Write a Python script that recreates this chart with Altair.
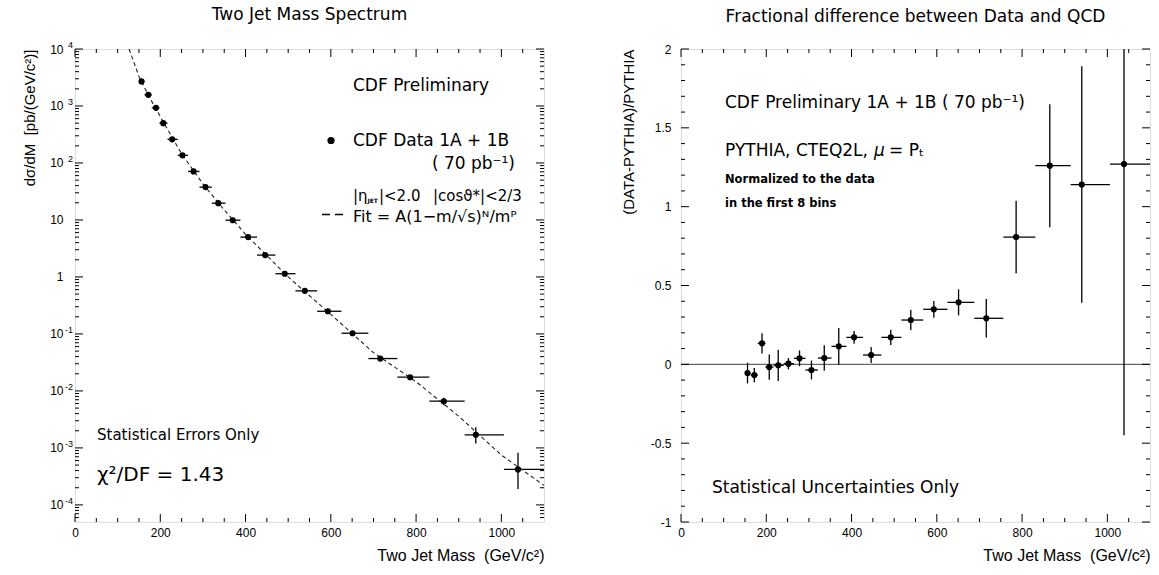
import altair as alt
import pandas as pd

# ---------------- data ----------------
mass = [156, 172, 190, 207, 228, 252, 278, 306, 336, 370, 406, 446, 492, 539,
        593, 651, 716, 786, 865, 940, 1039]
bin_lo = [150, 163, 180, 198, 217, 241, 265, 292, 321, 353, 388, 427, 470, 517,
          568, 625, 688, 756, 831, 914, 1006]
bin_hi = [163, 180, 198, 217, 241, 265, 292, 321, 353, 388, 427, 470, 517, 568,
          625, 688, 756, 831, 914, 1006, 1106]
xsec = [2700, 1570, 927, 500, 260, 136, 71, 37.7, 19.7, 9.9, 5.0, 2.42, 1.14, 0.57,
        0.25, 0.103, 0.037, 0.0174, 0.0066, 0.0017, 0.00042]
xsec_err_up = [40, 25, 15, 8, 4.5, 2.5, 1.4, 0.8, 0.45, 0.25, 0.14, 0.08, 0.045, 0.026,
               0.014, 0.0068, 0.0033, 0.0016, 0.001, 0.0006, 0.0004]
xsec_err_dn = [40, 25, 15, 8, 4.5, 2.5, 1.4, 0.8, 0.45, 0.25, 0.14, 0.08, 0.045, 0.026,
               0.014, 0.0068, 0.0033, 0.0016, 0.001, 0.0005, 0.00023]
fit_mass = [127, 150, 175, 200, 250, 300, 350, 400, 500, 600, 700, 800, 900, 1000, 1100]
fit_xsec = [1e4, 3300, 1400, 650, 145, 43, 15, 5.6, 1.0, 0.22, 0.047, 0.0145, 0.0036,
            0.00075, 0.00022]
ratio = [-0.055, -0.068, 0.133, -0.017, -0.006, 0.004, 0.038, -0.036, 0.04, 0.114, 0.171,
         0.059, 0.171, 0.281, 0.349, 0.393, 0.292, 0.807, 1.26, 1.14, 1.27]
ratio_err = [0.066, 0.045, 0.064, 0.08, 0.099, 0.036, 0.05, 0.06, 0.081, 0.116, 0.04,
             0.051, 0.048, 0.065, 0.053, 0.083, 0.122, 0.23, 0.39, 0.75, 1.72]

# tick positions and labels
x_major = [0, 200, 400, 600, 800, 1000]
x_minor = [50, 100, 150, 250, 300, 350, 450, 500, 550, 650, 700, 750, 850, 900, 950, 1050]
logy_major = [1e-4, 1e-3, 1e-2, 1e-1, 1, 10, 100, 1000, 10000]
logy_minor = [k * 10.0 ** e for e in range(-5, 4) for k in range(2, 10)
              if 10 ** -4.3 < k * 10.0 ** e < 1e4]
exp_pos = [1e-4, 1e-3, 1e-2, 1e-1, 100, 1000, 10000]
exp_txt = ["-4", "-3", "-2", "-1", "2", "3", "4"]
liny_major = [-1, -0.5, 0, 0.5, 1, 1.5, 2]
liny_minor = [-0.9, -0.8, -0.7, -0.6, -0.4, -0.3, -0.2, -0.1, 0.1, 0.2, 0.3, 0.4,
              0.6, 0.7, 0.8, 0.9, 1.1, 1.2, 1.3, 1.4, 1.6, 1.7, 1.8, 1.9]

W, H = 469, 473
TXT = "DejaVu Sans"
AX = "Liberation Sans"

dfL = pd.DataFrame({"m": mass, "lo": bin_lo, "hi": bin_hi, "v": xsec,
                    "vlo": [a - b for a, b in zip(xsec, xsec_err_dn)],
                    "vhi": [a + b for a, b in zip(xsec, xsec_err_up)]})
dfFit = pd.DataFrame({"m": fit_mass, "v": fit_xsec})
dfR = pd.DataFrame({"m": mass, "lo": bin_lo, "hi": bin_hi, "v": ratio,
                    "vlo": [a - b for a, b in zip(ratio, ratio_err)],
                    "vhi": [a + b for a, b in zip(ratio, ratio_err)]})
dfExp = pd.DataFrame({"d": exp_pos, "e": exp_txt})

xscale = alt.Scale(domain=[0, 1100], nice=False, zero=False)
xaxis = alt.Axis(values=x_major, labelExpr="'' + datum.value", ticks=False, domain=False,
                 grid=False, labelFont=AX, labelFontSize=12, labelColor="black",
                 labelPadding=5, labelFlush=False,
                 title="Two Jet Mass\u00a0\u00a0(GeV/c²)", titleFont=AX, titleFontSize=16,
                 titleFontWeight="normal", titleColor="black", titleAnchor="end",
                 titlePadding=9)

yscaleL = alt.Scale(type="log", domain=[10 ** -4.3, 1e4], nice=False)
yaxisL = alt.Axis(values=logy_major,
                  labelExpr="(datum.value > 0.5 && datum.value < 5) ? '1' : '10'",
                  ticks=False, domain=False,
                  grid=False, labelFont=AX, labelFontSize=12, labelColor="black",
                  labelPadding=12, labelFlush=False,
                  title="dσ/dM\u00a0\u00a0[pb/(GeV/c²)]", titleFont=AX, titleFontSize=15,
                  titleFontWeight="normal", titleColor="black", titleAnchor="end",
                  titlePadding=12)
yscaleR = alt.Scale(domain=[-1, 2], nice=False, zero=False)
yaxisR = alt.Axis(values=liny_major, labelExpr="'' + datum.value", ticks=False,
                  domain=False, grid=False, labelFont=AX, labelFontSize=12,
                  labelColor="black", labelPadding=10, labelFlush=False,
                  title="(DATA-PYTHIA)/PYTHIA", titleFont=AX, titleFontSize=15,
                  titleFontWeight="normal", titleColor="black", titleAnchor="end",
                  titlePadding=14)


def X(f):
    return alt.X(f, type="quantitative", scale=xscale, axis=xaxis)


def ticks(vals, which, length, yscale=None, yaxis=None):
    d = pd.DataFrame({"t": vals})
    base = alt.Chart(d).mark_rule(color="black", strokeWidth=1)
    out = []
    if which == "x":
        out.append(base.encode(x=X("t"), y=alt.value(H), y2=alt.value(H - length)))
        out.append(base.encode(x=X("t"), y=alt.value(0), y2=alt.value(length)))
    else:
        yy = alt.Y("t", type="quantitative", scale=yscale, axis=yaxis)
        out.append(base.encode(y=yy, x=alt.value(0), x2=alt.value(length)))
        out.append(base.encode(y=yy, x=alt.value(W), x2=alt.value(W - length)))
    return out


def label(s, x, y, size, weight="normal", align="left", font=TXT, style="normal"):
    return alt.Chart(pd.DataFrame({"s": [s]})).mark_text(
        align=align, baseline="alphabetic", font=font, fontSize=size,
        fontWeight=weight, fontStyle=style, color="black").encode(
        x=alt.value(x), y=alt.value(y), text="s:N")


def title(s):
    return alt.TitleParams(s, font=TXT, fontSize=17, fontWeight="normal", color="black",
                           anchor="middle", offset=17, frame="group")


# ---------------- left panel ----------------
YL = lambda f: alt.Y(f, type="quantitative", scale=yscaleL, axis=yaxisL)
baseL = alt.Chart(dfL)
left_layers = [
    baseL.mark_rule(color="black", strokeWidth=1.3, clip=True).encode(x=X("lo"), x2="hi", y=YL("v")),
    baseL.mark_rule(color="black", strokeWidth=1.3, clip=True).encode(x=X("m"), y=YL("vlo"), y2="vhi"),
    alt.Chart(dfFit).mark_line(color="#222", strokeWidth=1.1, strokeDash=[4, 3], clip=True).encode(
        x=X("m"), y=YL("v")),
    baseL.mark_circle(color="black", opacity=1, size=38).encode(x=X("m"), y=YL("v")),
    alt.Chart(dfExp).mark_text(align="right", baseline="middle", font=AX, fontSize=9,
                               dy=-4, color="black").encode(
        y=YL("d"), x=alt.value(-2), text="e:N"),
]
left_layers += ticks(x_major, "x", 8) + ticks(x_minor, "x", 4)
left_layers += ticks(logy_major, "y", 8, yscaleL, yaxisL) + ticks(logy_minor, "y", 4, yscaleL, yaxisL)
left_layers += [
    label("CDF Preliminary", 278, 42, 17),
    alt.Chart(pd.DataFrame({"s": [1]})).mark_circle(color="black", opacity=1, size=52).encode(
        x=alt.value(256), y=alt.value(91.5)),
    label("CDF Data 1A + 1B", 278, 97, 17),
    label("( 70 pb\u207b\u00b9)", 440, 120, 17, align="right"),
    label("|η", 278, 151.5, 15),
    label("JET", 292.5, 154, 6, weight="bold"),
    label("|<2.0", 304, 151.5, 15),
    label("|cosϑ*|<2/3", 358, 151.5, 15),
    alt.Chart(pd.DataFrame({"s": [1]})).mark_rule(color="black", strokeWidth=1.5, strokeDash=[8, 5]).encode(
        x=alt.value(247), x2=alt.value(269), y=alt.value(165.5)),
    label("Fit = A(1\u2212m/\u221as)\u1d3a/m\u1d3e", 278, 172.5, 16),
    label("Statistical Errors Only", 22, 390.5, 15),
    label("χ²/DF = 1.43", 22, 431.5, 20),
]
left = alt.layer(*left_layers).properties(width=W, height=H, title=title("Two Jet Mass Spectrum"))

# ---------------- right panel ----------------
YR = lambda f: alt.Y(f, type="quantitative", scale=yscaleR, axis=yaxisR)
baseR = alt.Chart(dfR)
right_layers = [
    alt.Chart(pd.DataFrame({"z": [0]})).mark_rule(color="#444", strokeWidth=1).encode(
        y=YR("z"), x=alt.value(0), x2=alt.value(W)),
    baseR.mark_rule(color="black", strokeWidth=1.3, clip=True).encode(x=X("lo"), x2="hi", y=YR("v")),
    baseR.mark_rule(color="black", strokeWidth=1.3, clip=True).encode(x=X("m"), y=YR("vlo"), y2="vhi"),
    baseR.mark_circle(color="black", opacity=1, size=38).encode(x=X("m"), y=YR("v")),
]
right_layers += ticks(x_major, "x", 8) + ticks(x_minor, "x", 4)
right_layers += ticks(liny_major, "y", 8, yscaleR, yaxisR) + ticks(liny_minor, "y", 4, yscaleR, yaxisR)
right_layers += [
    label("CDF Preliminary 1A + 1B ( 70 pb\u207b\u00b9)", 44, 58.5, 17),
    label("PYTHIA, CTEQ2L,", 44, 106.5, 17),
    label("μ", 193, 106.5, 17, style="italic"),
    label("= P\u209c", 208, 106.5, 17),
    label("Normalized to the data", 44, 134, 11.5, weight="bold"),
    label("in the first 8 bins", 44, 158, 11.5, weight="bold"),
    label("Statistical Uncertainties Only", 31, 444, 17),
]
right = alt.layer(*right_layers).properties(
    width=W, height=H, title=title("Fractional difference between Data and QCD"))

chart = alt.hconcat(left, right, spacing=137, bounds="flush").properties(
    padding={"left": 22, "top": 5, "right": 5, "bottom": 5}
).configure_view(stroke="black", strokeWidth=1.5).configure(background="white")

chart.save("out.html", embed_options={"renderer": "svg", "actions": False})
